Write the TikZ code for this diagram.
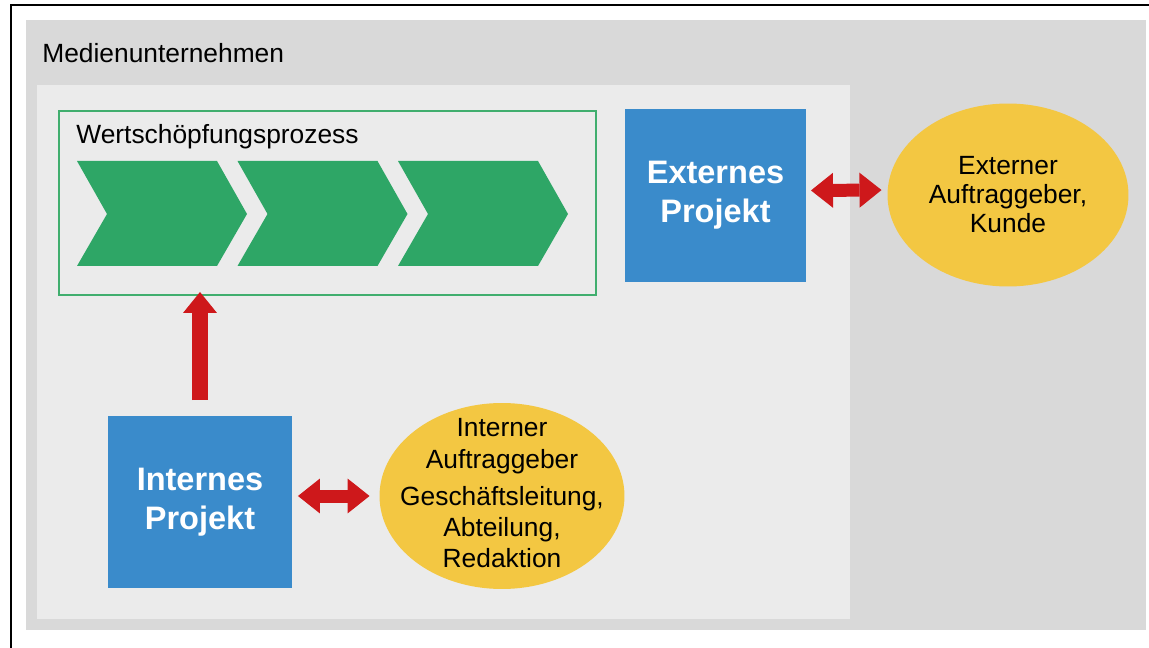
\documentclass[tikz,border=0pt]{standalone}
\usepackage{fontspec}
\setmainfont{Liberation Sans}
\usepackage{tikz}
\usetikzlibrary{arrows.meta, shapes.geometric}
\definecolor{outergray}{RGB}{217,217,217}
\definecolor{innergray}{RGB}{235,235,235}
\definecolor{chevgreen}{RGB}{46,166,102}
\definecolor{framegreen}{RGB}{64,174,110}
\definecolor{boxblue}{RGB}{58,139,203}
\definecolor{arrowred}{RGB}{206,24,27}
\definecolor{ovalyellow}{RGB}{243,199,66}

\begin{document}
\begin{tikzpicture} [x=0.02cm, y=-0.02cm, font=\fontsize{15}{16.5}\selectfont,
	projbox/.style={fill=boxblue, text=white, inner sep=0, outer sep=0, align=center, font=\fontsize{18.5}{22}\selectfont\bfseries},
	oval/.style={ellipse, fill=ovalyellow, inner sep=0, outer sep=0},
	dblarrow/.style={draw=arrowred, line width=0.26cm, {Triangle[length=0.44cm, width=0.7cm, line width=0pt]}-{Triangle[length=0.44cm, width=0.7cm, line width=0pt]}},
	uparrow/.style={draw=arrowred, line width=0.32cm, -{Triangle[length=0.42cm, width=0.68cm, line width=0pt]}}]
	\useasboundingbox (0,0) rectangle (1149,648);
	%\draw [thin, help lines] (0,0) grid (1149,648);
	\fill[outergray] (26,20) rectangle (1146,630);
	\fill[innergray] (37,85) rectangle (850,619);
	\draw[line width=0.04cm] (11,648) -- (11,5) -- (1149,5);
	\node[anchor=base west, inner sep=0] (medien) at (42,63) {Medienunternehmen};
	
	\node[draw=framegreen, line width=0.035cm, minimum width=10.74cm, minimum height=3.68cm, inner sep=0, outer sep=0] (wsp) at (327.5,203) {};
	\node[anchor=base west, inner sep=0] (wsplabel) at (76,144) {Wertschöpfungsprozess};
	\foreach \i in {0,1,2}
		\fill[chevgreen] ({77+160.5*\i},161) -- ++(140,0) -- ++(30,53) -- ++(-30,52) -- ++(-140,0) -- ++(30,-52) -- cycle;
	
	\node[projbox, minimum width=3.62cm, minimum height=3.46cm] (ext) at (715.5,195.5) {Externes\\Projekt};
	\node[projbox, minimum width=3.68cm, minimum height=3.44cm] (intern) at (200,502) {Internes\\Projekt};
	
	\node[oval, minimum width=4.82cm, minimum height=3.66cm] (kunde) at (1008,195) {};
	\node[align=center, inner sep=0] (kundetext) at (kunde) {Externer\\Auftraggeber,\\Kunde};
	\node[oval, minimum width=4.9cm, minimum height=3.72cm] (intauf) at (502,496) {};
	\node[align=center, inner sep=0, font=\fontsize{15}{17.5}\selectfont] (intauftext) at ([yshift=0.06cm]intauf.center) {Interner\\[1pt]Auftraggeber\\[3.5pt]Geschäftsleitung,\\Abteilung,\\Redaktion};
	
	\draw[dblarrow, shorten <=0.1cm, shorten >=0.12cm] ([yshift=0.1cm]ext.east) -- ([yshift=0.1cm]kunde.west);
	\draw[dblarrow, shorten <=0.12cm, shorten >=0.2cm] (intauf.west -| intern.east) -- (intauf.west);
	\draw[uparrow, shorten <=0.32cm, shorten >=-0.06cm] (intern.north) -- (intern.north |- wsp.south);
\end{tikzpicture}
\end{document}
